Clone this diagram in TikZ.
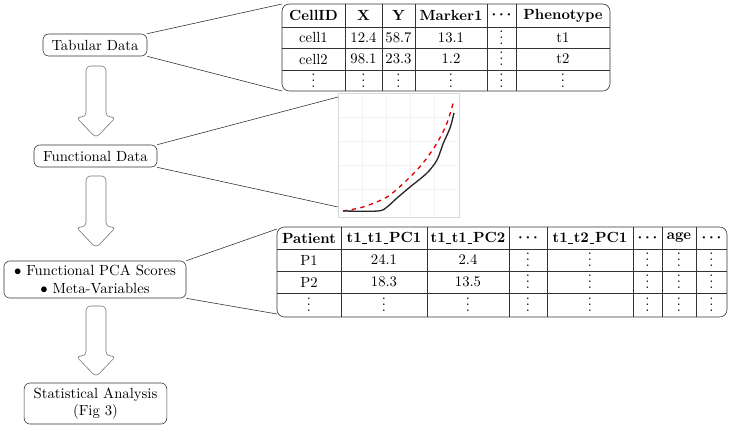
\documentclass[tikz,border=0pt]{standalone}
\usetikzlibrary{positioning}
\newcommand{\usc}{\kern0.05em\rule[-0.1ex]{0.32em}{0.5pt}\kern0.05em}
\newcommand{\vd}{\vbox{\baselineskip4pt \lineskiplimit0pt \hbox{.}\hbox{.}\hbox{.}}}
\tikzset{
    block/.style={draw=black!80, rounded corners=4pt, align=center, inner sep=2pt},
    fatarrow/.style={draw=black!55, rounded corners=3pt},
    link/.style={draw=black!80},
    cellline/.style={draw=black!80},
    cell/.style={inner sep=0pt},
    headcell/.style={cell, font=\bfseries\boldmath},
}

\begin{document}
\begin{tikzpicture}[x=0.68pt, y=-0.68pt]
                \useasboundingbox (0,0) rectangle (733,428);

                % left column
                \node[block, minimum width=70.7pt, minimum height=15pt] (tab) at (95,45) {Tabular Data};
                \node[block, minimum width=83.6pt, minimum height=15pt] (fun) at (95.5,156) {Functional Data};
                \node[block, minimum width=123.8pt, minimum height=25.2pt] (fpca) at (95,279.5)
                    {$\bullet$ Functional PCA Scores\\ $\bullet$ Meta-Variables};
                \node[block, minimum width=97pt, minimum height=27.9pt] (stat) at (95.5,403.5)
                    {Statistical Analysis\\ (Fig 3)};

                \foreach \ya/\yb in {66/138, 176/248, 306/377}
                    \draw[fatarrow] (96,\ya) -- (106,\ya) -- (106,\yb-21) -- (116,\yb-21) -- (96,\yb)
                        -- (76,\yb-21) -- (86,\yb-21) -- (86,\ya) -- cycle;

                % cell table
                \coordinate (cnw) at (282,4);
                \coordinate (csw) at (282,91);
                \coordinate (cse) at (610,91);
                \draw[cellline, rounded corners=5pt] (cnw) rectangle (cse);
                \foreach \y in {27,48,70}
                    \draw[cellline] (282,\y) -- (610,\y);
                \foreach \x in {345,382,415,487,516}
                    \draw[cellline] (\x,4) -- (\x,91);
                \foreach \x/\t [count=\i] in {313.5/CellID, 363.5/X, 398.5/Y, 451/Marker1, 501.5/$\cdots$, 563/Phenotype}
                    \node[headcell] (ch\i) at (\x,15.5) {\t};
                \foreach \x/\a/\b [count=\i] in {313.5/cell1/cell2, 363.5/12.4/98.1, 398.5/58.7/23.3,
                        451/13.1/1.2, 501.5/\vd/\vd, 563/t1/t2} {
                    \node[cell] (ca\i) at (\x,37.5) {\a};
                    \node[cell] (cb\i) at (\x,59) {\b};
                    \node[cell] (cc\i) at (\x,80.5) {\vd};
                }

                \draw[link] (tab.north east) -- (cnw);
                \draw[link] (tab.south east) -- (csw);

                % functional plot
                \coordinate (pnw) at (338,97);
                \coordinate (psw) at (338,207);
                \draw[black!15] (338,93) rectangle (459,217);
                \foreach \x in {362,386,410,434}
                    \draw[black!5] (\x,94) -- (\x,216);
                \foreach \y in {117,141,165,189}
                    \draw[black!5] (339,\y) -- (458,\y);
                \draw[red!90!black, line width=0.9pt, dashed] plot[smooth] coordinates
                    {(343,211) (363,207) (387,197) (407,180) (423,163) (437,143) (447,123) (454,100)};
                \draw[black!85, line width=0.9pt] plot[smooth] coordinates
                    {(343,211) (378,211) (387,207) (397,198) (410,187) (427,173) (437,160) (443,144) (450,128) (454,113)};

                \draw[link] (fun.north east) -- (pnw);
                \draw[link] (fun.south east) -- (psw);

                % score table
                \coordinate (snw) at (277,227);
                \coordinate (sse) at (727,317);
                \draw[cellline, rounded corners=5pt] (snw) rectangle (sse);
                \foreach \y in {249,271,293}
                    \draw[cellline] (277,\y) -- (727,\y);
                \foreach \x in {341,427,509,547,633,662,696}
                    \draw[cellline] (\x,227) -- (\x,317);
                \foreach \x/\t [count=\i] in {309/Patient, 384/t1\usc t1\usc PC1, 468/t1\usc t1\usc PC2, 528/$\cdots$,
                        590/t1\usc t2\usc PC1, 647.5/$\cdots$, 679/age, 711.5/$\cdots$}
                    \node[headcell] (sh\i) at (\x,238) {\t};
                \foreach \x/\a/\b [count=\i] in {309/P1/P2, 384/24.1/18.3, 468/2.4/13.5, 528/\vd/\vd,
                        590/\vd/\vd, 647.5/\vd/\vd, 679/\vd/\vd, 711.5/\vd/\vd} {
                    \node[cell] (sa\i) at (\x,260) {\a};
                    \node[cell] (sb\i) at (\x,282) {\b};
                    \node[cell] (sc\i) at (\x,305) {\vd};
                }

                \draw[link] (fpca.north east) -- (277,229);
                \draw[link] (fpca.south east) -- (277,314);
            \end{tikzpicture}
\end{document}
